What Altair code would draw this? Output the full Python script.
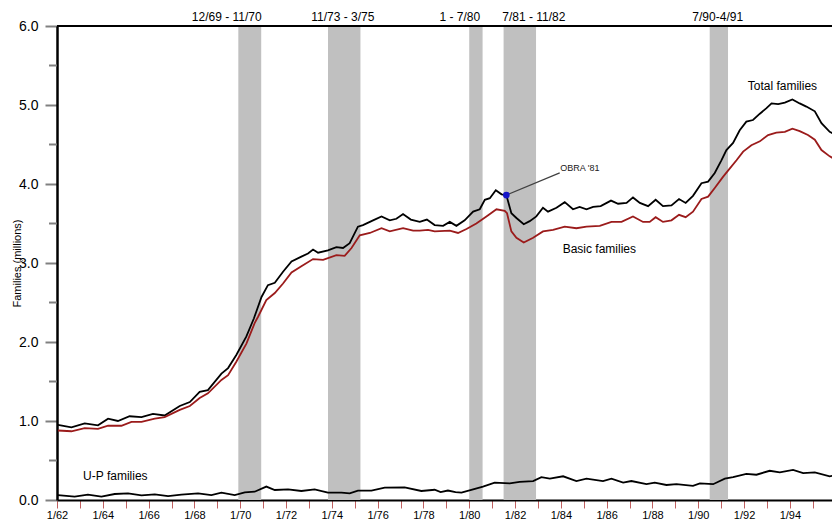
import altair as alt
import pandas as pd

# ---------------- data ----------------
total_year = [1962.04, 1962.63, 1963.21, 1963.79, 1964.23, 1964.66, 1965.17, 1965.69, 1966.19, 1966.70,
              1967.36, 1967.80, 1968.23, 1968.59, 1969.18, 1969.47, 1969.83, 1970.27, 1970.60, 1970.93,
              1971.21, 1971.51, 1971.87, 1972.24, 1972.67, 1972.96, 1973.18, 1973.40, 1973.83, 1974.20,
              1974.49, 1974.78, 1975.14, 1975.36, 1975.80, 1976.17, 1976.53, 1976.82, 1977.11, 1977.45,
              1977.84, 1978.15, 1978.49, 1978.86, 1979.15, 1979.44, 1979.80, 1980.17, 1980.46, 1980.68,
              1980.90, 1981.16, 1981.41, 1981.62, 1981.84, 1982.06, 1982.38, 1982.64, 1982.93, 1983.22,
              1983.44, 1983.81, 1984.17, 1984.53, 1984.82, 1985.12, 1985.41, 1985.74, 1986.19, 1986.50,
              1986.87, 1987.15, 1987.45, 1987.81, 1988.14, 1988.46, 1988.83, 1989.16, 1989.45, 1989.77,
              1990.14, 1990.43, 1990.72, 1991.01, 1991.23, 1991.52, 1991.81, 1992.10, 1992.39, 1992.69,
              1992.98, 1993.20, 1993.49, 1993.78, 1994.11, 1994.43, 1994.72, 1995.09, 1995.38, 1995.74,
              1996.18]
total_val = [0.95, 0.92, 0.97, 0.945, 1.03, 1.00, 1.06, 1.05, 1.09, 1.07,
             1.19, 1.24, 1.37, 1.39, 1.60, 1.67, 1.835, 2.07, 2.30, 2.57,
             2.72, 2.75, 2.89, 3.02, 3.08, 3.12, 3.17, 3.13, 3.16, 3.20,
             3.19, 3.25, 3.46, 3.48, 3.54, 3.59, 3.54, 3.56, 3.62, 3.55,
             3.52, 3.55, 3.48, 3.47, 3.52, 3.47, 3.54, 3.65, 3.68, 3.80,
             3.82, 3.92, 3.87, 3.86, 3.63, 3.57, 3.49, 3.53, 3.59, 3.70,
             3.65, 3.70, 3.77, 3.68, 3.71, 3.68, 3.71, 3.72, 3.79, 3.75,
             3.76, 3.83, 3.76, 3.72, 3.80, 3.72, 3.73, 3.81, 3.76, 3.85,
             4.01, 4.03, 4.14, 4.30, 4.43, 4.52, 4.68, 4.79, 4.81, 4.89,
             4.96, 5.02, 5.01, 5.03, 5.07, 5.02, 4.98, 4.92, 4.77, 4.66,
             4.60]

basic_year = [1962.04, 1962.63, 1963.21, 1963.79, 1964.23, 1964.81, 1965.25, 1965.69, 1966.27, 1966.70,
              1967.36, 1967.80, 1968.23, 1968.59, 1969.18, 1969.47, 1969.83, 1970.27, 1970.63, 1970.78,
              1971.14, 1971.51, 1971.87, 1972.24, 1972.67, 1973.18, 1973.62, 1974.20, 1974.56, 1974.86,
              1975.22, 1975.66, 1976.17, 1976.53, 1977.11, 1977.55, 1977.84, 1978.20, 1978.49, 1979.15,
              1979.51, 1979.88, 1980.31, 1980.75, 1981.19, 1981.55, 1981.65, 1981.84, 1982.06, 1982.38,
              1982.79, 1983.22, 1983.66, 1984.17, 1984.68, 1985.12, 1985.70, 1986.21, 1986.65, 1987.15,
              1987.59, 1987.88, 1988.14, 1988.46, 1988.83, 1989.16, 1989.45, 1989.77, 1990.14, 1990.43,
              1990.72, 1991.08, 1991.30, 1991.67, 1991.96, 1992.32, 1992.69, 1993.05, 1993.41, 1993.78,
              1994.11, 1994.43, 1994.79, 1995.09, 1995.38, 1995.74, 1996.18]
basic_val = [0.88, 0.87, 0.91, 0.90, 0.94, 0.94, 0.99, 0.99, 1.03, 1.05,
             1.14, 1.19, 1.29, 1.35, 1.52, 1.58, 1.75, 1.98, 2.24, 2.32,
             2.53, 2.62, 2.74, 2.88, 2.96, 3.05, 3.04, 3.10, 3.09, 3.19,
             3.35, 3.38, 3.44, 3.40, 3.44, 3.41, 3.41, 3.42, 3.40, 3.41,
             3.38, 3.43, 3.50, 3.59, 3.68, 3.66, 3.63, 3.40, 3.32, 3.26,
             3.32, 3.40, 3.42, 3.46, 3.44, 3.46, 3.47, 3.52, 3.52, 3.59,
             3.52, 3.52, 3.58, 3.52, 3.54, 3.61, 3.58, 3.65, 3.81, 3.84,
             3.95, 4.09, 4.17, 4.30, 4.41, 4.49, 4.54, 4.62, 4.65, 4.66,
             4.70, 4.67, 4.62, 4.56, 4.43, 4.35, 4.28]

up_year = [1962.04, 1962.77, 1963.35, 1963.94, 1964.52, 1965.10, 1965.69, 1966.27, 1966.85, 1967.43,
           1968.16, 1968.74, 1969.18, 1969.76, 1970.20, 1970.63, 1971.14, 1971.51, 1972.09, 1972.67,
           1973.25, 1973.83, 1974.42, 1974.78, 1975.14, 1975.73, 1976.31, 1977.18, 1977.91, 1978.49,
           1978.75, 1979.07, 1979.40, 1979.66, 1980.17, 1980.60, 1981.11, 1981.77, 1982.20, 1982.79,
           1983.15, 1983.52, 1984.10, 1984.68, 1985.12, 1985.84, 1986.21, 1986.72, 1987.08, 1987.74,
           1988.10, 1988.61, 1989.05, 1989.77, 1990.07, 1990.65, 1991.16, 1991.52, 1992.10, 1992.54,
           1993.12, 1993.56, 1994.14, 1994.58, 1995.09, 1995.74, 1996.18]
up_val = [0.063, 0.042, 0.068, 0.042, 0.076, 0.084, 0.059, 0.072, 0.050, 0.068,
          0.084, 0.063, 0.093, 0.063, 0.097, 0.105, 0.170, 0.127, 0.135, 0.114,
          0.135, 0.093, 0.093, 0.084, 0.118, 0.118, 0.156, 0.160, 0.114, 0.130,
          0.100, 0.120, 0.100, 0.093, 0.135, 0.170, 0.220, 0.210, 0.230, 0.240,
          0.290, 0.270, 0.300, 0.240, 0.270, 0.240, 0.270, 0.220, 0.240, 0.200,
          0.220, 0.190, 0.200, 0.180, 0.210, 0.200, 0.270, 0.290, 0.330, 0.320,
          0.370, 0.350, 0.380, 0.340, 0.350, 0.300, 0.320]

recess_start = [1969.917, 1973.833, 1980.0, 1981.5, 1990.5]
recess_end = [1970.917, 1975.25, 1980.583, 1982.917, 1991.3]
recess_label = ["12/69 - 11/70", "11/73 - 3/75", "1 - 7/80", "7/81 - 11/82", "7/90-4/91"]
recess_label_year = [1969.41, 1974.48, 1979.59, 1982.82, 1990.85]

series_names = ["Total families", "Basic families", "U-P families"]
series_label_year = [1992.16, 1984.08, 1963.14]
series_label_val = [5.24, 3.18, 0.30]

obra_text = "OBRA '81"
obra_year = [1981.62, 1983.95]
obra_val = [3.86, 4.14]

x_tick_years = list(range(1962, 1997))
y_major_ticks = [0, 1, 2, 3, 4, 5, 6]
y_minor_ticks = [0.5, 1.5, 2.5, 3.5, 4.5, 5.5]

# ---------------- tables ----------------
lines_df = pd.concat([
    pd.DataFrame({"series": series_names[0], "year": total_year, "value": total_val}),
    pd.DataFrame({"series": series_names[1], "year": basic_year, "value": basic_val}),
    pd.DataFrame({"series": series_names[2], "year": up_year, "value": up_val}),
], ignore_index=True)
rec_df = pd.DataFrame({"start": recess_start, "end": recess_end,
                       "label": recess_label, "lx": recess_label_year})
lab_df = pd.DataFrame({"name": series_names, "year": series_label_year, "value": series_label_val})
obra_df = pd.DataFrame({"year": obra_year, "value": obra_val})
obra_pt = obra_df.iloc[[0]]
obra_lab = pd.DataFrame({"year": [obra_year[1] + 0.02], "value": [obra_val[1] + 0.06], "t": [obra_text]})
minor_df = pd.DataFrame({"v": y_minor_ticks})

FONT = "Liberation Sans"
xscale = alt.Scale(domain=[1962, 1995.84], nice=False, zero=False)
yscale = alt.Scale(domain=[0, 6], nice=False, zero=False)

xaxis = alt.Axis(
    values=x_tick_years,
    labelExpr="datum.value % 2 == 0 ? '1/' + format(datum.value % 100, '02d') : ''",
    tickColor="#c06060", tickSize=8, tickWidth=1,
    domainColor="black", domainWidth=2,
    labelFontSize=11, labelFont=FONT, labelColor="black", labelPadding=1,
    labelOverlap=False, labelFlush=False, grid=False, title=None,
)
yaxis = alt.Axis(
    values=y_major_ticks,
    format=".1f",
    tickSize=12, tickColor="#808080", tickWidth=2,
    domainColor="black", domainWidth=2.5,
    labelFontSize=14, labelFont=FONT, labelColor="black", labelPadding=7,
    labelOverlap=False, grid=False,
    title="Families (millions)", titleFont=FONT, titleFontSize=11, titleFontWeight="normal",
    titleColor="black", titleX=-40, titleY=237, titleAngle=270, titleBaseline="middle",
    titleAlign="center",
)

X = lambda f: alt.X(f, scale=xscale, axis=xaxis)
Y = lambda f: alt.Y(f, scale=yscale, axis=yaxis)

rects = alt.Chart(rec_df).mark_rect(color="#c0c0c0").encode(
    x=X("start:Q"), x2="end:Q",
)
top_rule = alt.Chart(rec_df).mark_rule(color="black", strokeWidth=2).encode(
    y=alt.datum(6, scale=yscale, axis=yaxis)
)
minor = alt.Chart(minor_df).mark_rule(color="#808080", strokeWidth=2).encode(
    y=Y("v:Q"), x=alt.value(-8), x2=alt.value(0),
)
lines = alt.Chart(lines_df).mark_line(strokeWidth=1.8, clip=True).encode(
    x=X("year:Q"),
    y=Y("value:Q"),
    color=alt.Color("series:N", scale=alt.Scale(domain=series_names,
                                                 range=["#000000", "#9b1b1b", "#000000"]),
                    legend=None),
    detail="series:N",
)
conn = alt.Chart(obra_df).mark_line(color="#404040", strokeWidth=1.3).encode(
    x=X("year:Q"), y=Y("value:Q"),
)
dot = alt.Chart(obra_pt).mark_point(filled=True, color="#1515c8", size=45, opacity=1).encode(
    x=X("year:Q"), y=Y("value:Q"),
)
obra_t = alt.Chart(obra_lab).mark_text(font=FONT, fontSize=9, align="left", baseline="middle",
                                       color="#202020").encode(
    x=X("year:Q"), y=Y("value:Q"), text="t:N",
)
ser_t = alt.Chart(lab_df).mark_text(font=FONT, fontSize=12, align="left", baseline="middle",
                                    color="black").encode(
    x=X("year:Q"), y=Y("value:Q"), text="name:N",
)
rec_t = alt.Chart(rec_df).mark_text(font=FONT, fontSize=12, align="center", baseline="middle",
                                    color="black").encode(
    x=X("lx:Q"), y=alt.value(-9.5), text="label:N",
)

chart = alt.layer(rects, top_rule, minor, lines, conn, dot, obra_t, ser_t, rec_t).properties(
    width=775, height=474,
    autosize=alt.AutoSizeParams(type="none"),
    padding={"left": 49, "top": 18, "right": 0, "bottom": 21},
    background="white",
).configure_view(stroke=None).configure(font=FONT)

chart.save("out.html", embed_options={"renderer": "svg", "actions": False})
